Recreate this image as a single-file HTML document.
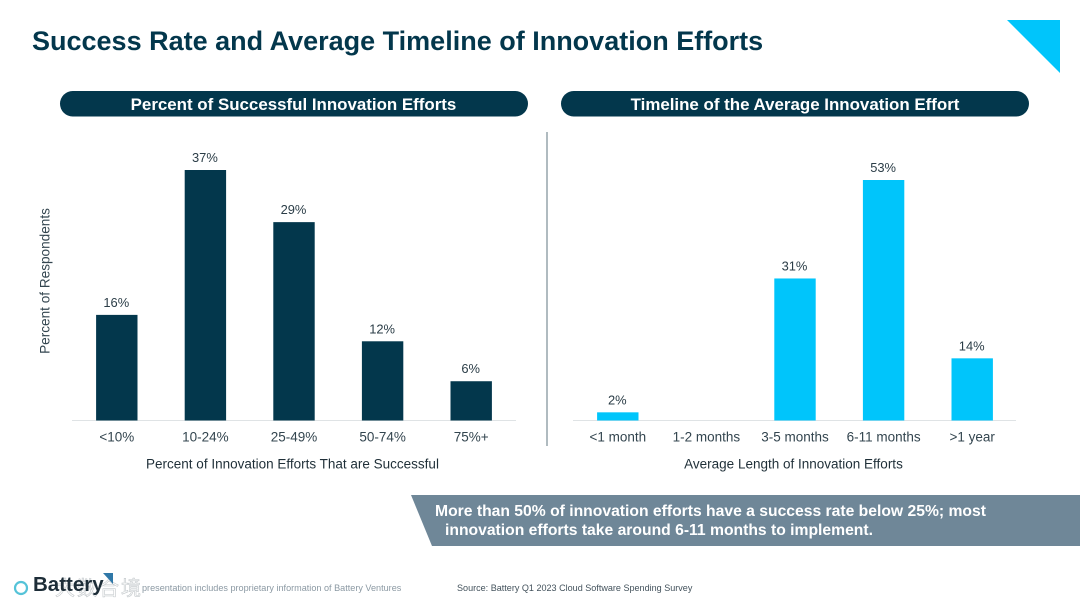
<!DOCTYPE html>
<html lang="en">
<head>
<meta charset="utf-8">
<title>Success Rate and Average Timeline of Innovation Efforts</title>
<style>
html,body{margin:0;padding:0;background:#fff;}
#stage{position:relative;width:1080px;height:608px;overflow:hidden;background:#fff;font-family:"Liberation Sans",sans-serif;}
#stage svg{position:absolute;left:0;top:0;}
text{font-family:"Liberation Sans","Noto Sans CJK SC",sans-serif;}
</style>
</head>
<body>
<div id="stage">
<svg id="chart" width="1080" height="608" viewBox="0 0 1080 608" style="filter:blur(.35px)">
  <text x="32" y="50" font-size="27" font-weight="700" fill="#03374c">Success Rate and Average Timeline of Innovation Efforts</text>
  <polygon points="1007,20 1060,20 1060,73" fill="#00c5fb"/>

  <rect x="60" y="91" width="468" height="25.5" rx="12.7" fill="#03374c"/>
  <text x="293.5" y="110" font-size="16.9" font-weight="700" fill="#fff" text-anchor="middle">Percent of Successful Innovation Efforts</text>
  <rect x="561" y="91" width="468" height="25.5" rx="12.7" fill="#03374c"/>
  <text x="795" y="110" font-size="16.9" font-weight="700" fill="#fff" text-anchor="middle">Timeline of the Average Innovation Effort</text>

  <line x1="547" y1="132" x2="547" y2="446" stroke="#8f9ea6" stroke-width="1.4"/>

  <text transform="translate(49.5,281) rotate(-90)" font-size="13.6" fill="#33454f" text-anchor="middle">Percent of Respondents</text>
  <text x="292.5" y="468.5" font-size="13.5" fill="#1f2f38" text-anchor="middle">Percent of Innovation Efforts That are Successful</text>
  <text x="793.5" y="468.5" font-size="13.5" fill="#1f2f38" text-anchor="middle">Average Length of Innovation Efforts</text>

  <g id="left-bars"></g>
  <g id="right-bars"></g>

  <polygon points="411,495 1080,495 1080,546 432,546" fill="#6f8798"/>
  <text font-size="15.7" font-weight="700" fill="#fff">
    <tspan x="435" y="516">More than 50% of innovation efforts have a success rate below 25%; most</tspan>
    <tspan x="445" y="535">innovation efforts take around 6-11 months to implement.</tspan>
  </text>

  <g>
    <text x="55" y="595" font-size="20" fill="#fff" stroke="#c3c8cb" stroke-width=".6" textLength="86">大数合境</text>
    <circle cx="21" cy="588" r="6" fill="none" stroke="#55c3d8" stroke-width="2.2"/>
    <text x="33" y="591" font-size="20.5" font-weight="700" fill="#1d2d38">Battery</text>
    <polygon points="103,573 113,573 113,584" fill="#2f78a8"/>
    <text x="142" y="591" font-size="9.1" fill="#8b99a3">presentation includes proprietary information of Battery Ventures</text>
    <text x="457" y="591" font-size="9.05" fill="#43525c">Source: Battery Q1 2023 Cloud Software Spending Survey</text>
  </g>
</svg>
</div>
<script>
const leftCategories = ['<10%', '10-24%', '25-49%', '50-74%', '75%+'];
const leftValues = [15.6, 37, 29.3, 11.7, 5.8];
const rightCategories = ['<1 month', '1-2 months', '3-5 months', '6-11 months', '>1 year'];
const rightValues = [1.8, 0, 31.3, 53, 13.7];

const SVG_NS = 'http://www.w3.org/2000/svg';
const BASELINE = 420.5;

function makeX(axisStart, axisEnd, count) {
  const band = (axisEnd - axisStart) / count;
  return function (i) { return axisStart + band * (i + 0.5); };
}
function makeY(maxValue, maxPixels) {
  return function (v) { return BASELINE - v / maxValue * maxPixels; };
}
function drawChart(groupId, prefix, categories, values, color, x, y, axisStart, axisEnd) {
  const g = document.getElementById(groupId);
  const axis = document.createElementNS(SVG_NS, 'line');
  
  
  axis.setAttribute('x1', axisStart);
  axis.setAttribute('x2', axisEnd);
  axis.setAttribute('y1', BASELINE);
  axis.setAttribute('y2', BASELINE);
  axis.setAttribute('stroke', '#dfe3e5');
  axis.setAttribute('stroke-width', '1');
  g.appendChild(axis);
  categories.forEach(function (cat, i) {
    const cx = x(i);
    const tick = document.createElementNS(SVG_NS, 'text');
    
    
    tick.setAttribute('x', cx);
    tick.setAttribute('y', 441.5);
    tick.setAttribute('font-size', '13.5');
    tick.setAttribute('fill', '#33454f');
    tick.setAttribute('text-anchor', 'middle');
    tick.textContent = cat;
    g.appendChild(tick);
    const v = values[i];
    if (!v) return;
    const top = y(v);
    const bar = document.createElementNS(SVG_NS, 'rect');
    
    
    bar.setAttribute('x', cx - 20.7);
    bar.setAttribute('y', top);
    bar.setAttribute('width', 41.4);
    bar.setAttribute('height', BASELINE - top);
    bar.setAttribute('fill', color);
    g.appendChild(bar);
    const label = document.createElementNS(SVG_NS, 'text');
    
    
    label.setAttribute('x', cx - 0.5);
    label.setAttribute('y', top - 8);
    label.setAttribute('font-size', '12.9');
    label.setAttribute('fill', '#2b3d47');
    label.setAttribute('text-anchor', 'middle');
    label.textContent = Math.round(v) + '%';
    g.appendChild(label);
  });
}
drawChart('left-bars', 'left', leftCategories, leftValues, '#03374c',
  makeX(72.5, 515.5, leftCategories.length), makeY(37, 250.5), 72, 516);
drawChart('right-bars', 'right', rightCategories, rightValues, '#00c5fb',
  makeX(573.5, 1016.5, rightCategories.length), makeY(53, 240.5), 573, 1016);
</script>
</body>
</html>
